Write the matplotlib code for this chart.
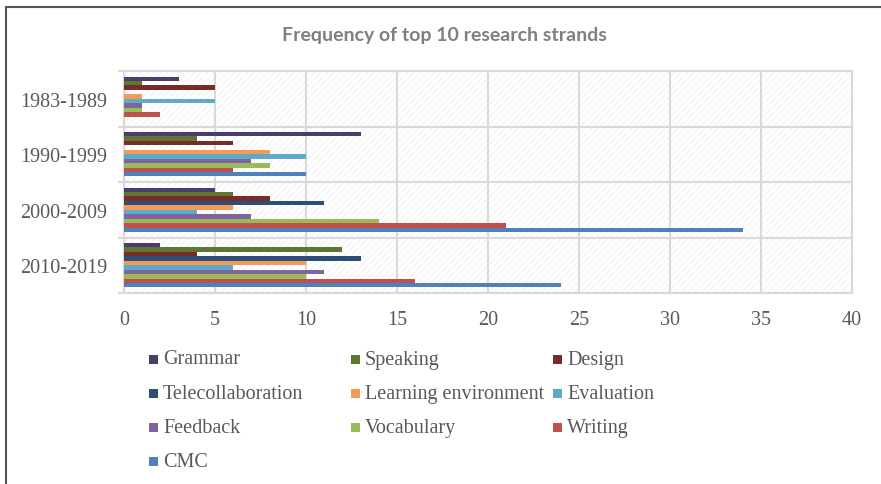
import matplotlib
matplotlib.use("Agg")
import matplotlib.pyplot as plt
from matplotlib.patches import Rectangle
from matplotlib.lines import Line2D
import numpy as np

# ---------------------------------------------------------------------------
# data: number of studies per research strand and period
# ---------------------------------------------------------------------------
periods = ["1983-1989", "1990-1999", "2000-2009", "2010-2019"]
strands = ["Grammar", "Speaking", "Design", "Telecollaboration",
           "Learning environment", "Evaluation", "Feedback", "Vocabulary",
           "Writing", "CMC"]

grammar = [3, 13, 5, 2]
speaking = [1, 4, 6, 12]
design = [5, 6, 8, 4]
telecollaboration = [0, 0, 11, 13]
learning_env = [1, 8, 6, 10]
evaluation = [5, 10, 4, 6]
feedback = [1, 7, 7, 11]
vocabulary = [1, 8, 14, 10]
writing = [2, 6, 21, 16]
cmc = [0, 10, 34, 24]

series = [grammar, speaking, design, telecollaboration, learning_env,
          evaluation, feedback, vocabulary, writing, cmc]
colors = ["#4b3d6b", "#5f7532", "#772c2a", "#2d4e76", "#f29b57",
          "#5eabc9", "#8064a2", "#9bbb59", "#c0504d", "#4f81bd"]

TEXT = "#595959"
GRID = "#d9d9d9"
SERIF = ["Liberation Serif", "DejaVu Serif"]

plt.rcParams["hatch.linewidth"] = 0.5

fig = plt.figure(figsize=(8.81, 4.85), dpi=100)
ax = fig.add_axes([124 / 881, 191 / 485, 728 / 881, 222 / 485])

# patterned plot-area background
ax.add_patch(Rectangle((0, 0), 1, 1, transform=ax.transAxes, facecolor="white",
                       edgecolor="#ececec", hatch="/////", linewidth=0, zorder=0))

bar_h = 0.08
y = np.arange(len(periods))
for i, (vals, col) in enumerate(zip(series, colors)):
    ax.barh(y + (i - 4.5) * bar_h, vals, height=bar_h, color=col,
            linewidth=0, label=strands[i], zorder=3)

ax.set_xlim(0, 40)
ax.set_ylim(3.5, -0.5)
ax.set_xticks(range(0, 41, 5))
ax.set_yticks(y)
ax.set_yticklabels(periods)
ax.set_yticks(np.arange(-0.5, 3.6, 1), minor=True)
ax.grid(True, axis="x", color=GRID, linewidth=1.5, zorder=1)
ax.grid(True, axis="y", which="minor", color=GRID, linewidth=1.5, zorder=1)
ax.tick_params(axis="y", which="major", length=0, pad=12, labelsize=14.5,
               labelcolor=TEXT)
ax.tick_params(axis="y", which="minor", length=4.5, width=1.5, color=GRID)
ax.tick_params(axis="x", length=0, pad=12, labelsize=14.5, labelcolor=TEXT)
for lab in ax.get_xticklabels() + ax.get_yticklabels():
    lab.set_family(SERIF)
for sp in ax.spines.values():
    sp.set_color(GRID)
    sp.set_linewidth(1.5)

fig.text(444 / 881, 1 - 35 / 485, "Frequency of top 10 research strands",
         ha="center", va="center", fontsize=14, fontweight="bold",
         color="#7f7f7f", family=["Lato", "DejaVu Sans"])

# legend laid out row by row in three columns
for i, (name, col) in enumerate(zip(strands, colors)):
    row, c = divmod(i, 3)
    x0 = 149 + c * 202
    yc = 360 + row * 34.3
    fig.patches.append(Rectangle((x0 / 881, 1 - (yc + 4.5) / 485), 9 / 881, 9 / 485,
                                 transform=fig.transFigure, facecolor=col,
                                 edgecolor="none"))
    fig.text((x0 + 14) / 881, 1 - yc / 485, name, ha="left", va="center",
             fontsize=14.5, color=TEXT, family=SERIF)

# chart border
fig.add_artist(Line2D([6 / 881, 6 / 881], [0, 1 - 8 / 485],
                      transform=fig.transFigure, color="#555555", lw=1.5))
fig.add_artist(Line2D([6 / 881, 1], [1 - 8 / 485, 1 - 8 / 485],
                      transform=fig.transFigure, color="#555555", lw=1.5))

fig.savefig("out.png", dpi=100)
